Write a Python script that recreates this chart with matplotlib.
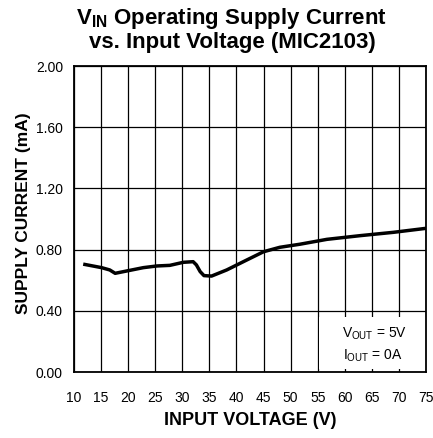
import matplotlib
matplotlib.use("Agg")
import matplotlib.pyplot as plt
from matplotlib.patches import Rectangle

plt.rcParams['font.family'] = ['Liberation Sans', 'DejaVu Sans']
plt.rcParams['mathtext.fontset'] = 'custom'
plt.rcParams['mathtext.rm'] = 'Liberation Sans'
plt.rcParams['mathtext.bf'] = 'Liberation Sans:bold'

# Data
input_voltage = [11.7, 15.1, 16.6, 17.6, 19.7, 22.8, 25.3, 27.7, 30.2, 32.0, 32.6,
                 33.3, 34.0, 35.4, 38.2, 41.9, 45.0, 48.0, 51.7, 56.7, 62.8, 69.0, 75.0]
supply_current = [0.705, 0.682, 0.667, 0.645, 0.660, 0.682, 0.693, 0.697, 0.717, 0.721, 0.700,
                  0.656, 0.630, 0.627, 0.667, 0.732, 0.786, 0.815, 0.835, 0.867, 0.891, 0.913, 0.939]
x_ticks = [10, 15, 20, 25, 30, 35, 40, 45, 50, 55, 60, 65, 70, 75]
y_ticks = [0.0, 0.4, 0.8, 1.2, 1.6, 2.0]
y_tick_labels = ['0.00', '0.40', '0.80', '1.20', '1.60', '2.00']
title_lines = [r'V$_{\mathbf{IN}}$ Operating Supply Current', 'vs. Input Voltage (MIC2103)']

W, H = 433, 438
fig = plt.figure(figsize=(W / 100, H / 100), dpi=100)
ax = fig.add_axes([74 / W, 1 - 372 / H, 352 / W, 306 / H])

ax.set_xlim(10, 75)
ax.set_ylim(0, 2.0)
ax.set_xticks(x_ticks)
ax.set_xticklabels([str(v) for v in x_ticks])
ax.set_yticks(y_ticks)
ax.set_yticklabels(y_tick_labels)
ax.tick_params(length=0, labelsize=10)
ax.tick_params(axis='x', pad=14)
ax.tick_params(axis='y', pad=8)
ax.grid(True, color='black', linewidth=0.9)
ax.set_axisbelow(True)
for s in ax.spines.values():
    s.set_linewidth(1.3)

# annotation box covering grid
ax.add_patch(Rectangle((55.3, 0.02), 19.7, 0.34, facecolor='white', edgecolor='none', zorder=1.5))
ax.text(59.5, 0.222, r'V$_{\mathrm{OUT}}$ = 5V', ha='left', va='baseline', fontsize=10, zorder=3)
ax.text(59.7, 0.078, r'I$_{\mathrm{OUT}}$ = 0A', ha='left', va='baseline', fontsize=10, zorder=3)

ax.plot(input_voltage, supply_current, color='black', linewidth=2.5, zorder=4,
        solid_joinstyle='round', solid_capstyle='butt')

ax.set_xlabel('INPUT VOLTAGE (V)', fontsize=13, fontweight='bold', labelpad=5)
ax.set_ylabel('SUPPLY CURRENT (mA)', fontsize=12.5, fontweight='bold')
ax.yaxis.set_label_coords(-0.122, 0.52)

fig.text(232 / W, 1 - 24 / H, title_lines[0], ha='center', va='baseline',
         fontsize=16, fontweight='bold')
fig.text(232 / W, 1 - 48 / H, title_lines[1], ha='center', va='baseline',
         fontsize=16, fontweight='bold')

fig.savefig('out.png', dpi=100)
